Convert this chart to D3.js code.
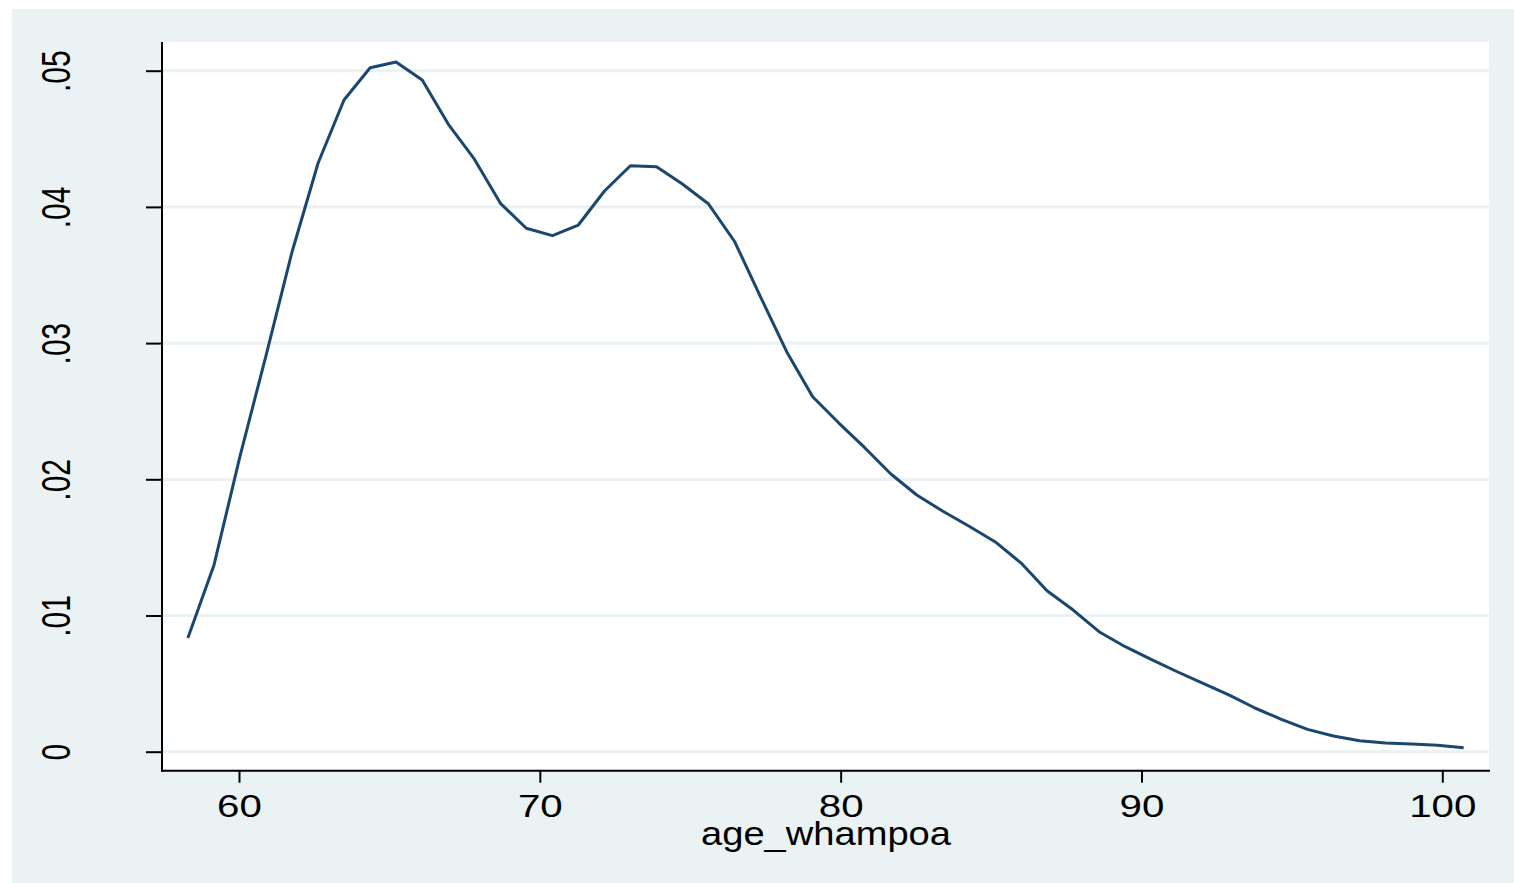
<!DOCTYPE html>
<html>
<head>
<meta charset="utf-8">
<script src="https://cdn.jsdelivr.net/npm/d3@7"></script>
<style>
  body { margin: 0; background: #fff; }
  text { font-family: "Liberation Sans", Arial, sans-serif; fill: #000; }
</style>
</head>
<body>
<script>
// kernel density of age_whampoa (50 evaluation points)
var ageGrid = [58.30, 59.17, 60.03, 60.90, 61.76, 62.63, 63.49, 64.36, 65.22, 66.09,
               66.96, 67.82, 68.69, 69.55, 70.42, 71.28, 72.15, 73.01, 73.88, 74.74,
               75.61, 76.48, 77.34, 78.21, 79.07, 79.94, 80.80, 81.67, 82.53, 83.40,
               84.27, 85.13, 86.00, 86.86, 87.73, 88.59, 89.46, 90.32, 91.19, 92.05,
               92.92, 93.79, 94.65, 95.52, 96.38, 97.25, 98.11, 98.98, 99.84, 100.71];
var density = [0.00835, 0.01371, 0.02166, 0.02910, 0.03667, 0.04322, 0.04785, 0.05022, 0.05064, 0.04932,
               0.04606, 0.04352, 0.04026, 0.03843, 0.03789, 0.03867, 0.04117, 0.04302, 0.04295, 0.04168,
               0.04021, 0.03744, 0.03338, 0.02935, 0.02606, 0.02413, 0.02232, 0.02039, 0.01885, 0.01765,
               0.01655, 0.01542, 0.01385, 0.01182, 0.01040, 0.00881, 0.00771, 0.00678, 0.00587, 0.00502,
               0.00416, 0.00319, 0.00238, 0.00164, 0.00115, 0.00081, 0.00064, 0.00057, 0.00047, 0.00029];
var xTicks = [60, 70, 80, 90, 100];
var yTicks = [0, 0.01, 0.02, 0.03, 0.04, 0.05];
var yTickLabels = ["0", ".01", ".02", ".03", ".04", ".05"];
var xTitle = "age_whampoa";

var width = 1514;
var height = 883;
var svg = d3.select("body").append("svg")
    .attr("width", width)
    .attr("height", height);

// graph region (stata s2color look)
svg.append("rect")
    .attr("x", 12).attr("y", 9)
    .attr("width", width - 12).attr("height", height - 9)
    .attr("fill", "#eaf2f3");

// plot region
var plot = { left: 162, right: 1489, top: 42, bottom: 770.7 };
svg.append("rect")
    .attr("x", plot.left).attr("y", plot.top)
    .attr("width", plot.right - plot.left)
    .attr("height", plot.bottom - plot.top)
    .attr("fill", "#fff");

var xScale = d3.scaleLinear().domain([60, 100]).range([239, 1442.3]);
var yScale = d3.scaleLinear().domain([0, 0.05]).range([751.7, 70.7]);

// grid lines
svg.append("g")
    .selectAll("line")
    .data(yTicks)
    .join("line")
    .attr("x1", plot.left).attr("x2", plot.right)
    .attr("y1", function(d) { return yScale(d); })
    .attr("y2", function(d) { return yScale(d); })
    .attr("stroke", "#eaf2f3")
    .attr("stroke-width", 3.2);

// density curve
var line = d3.line()
    .x(function(d, i) { return xScale(ageGrid[i]); })
    .y(function(d) { return yScale(d); });
svg.append("path")
    .datum(density)
    .attr("d", line)
    .attr("fill", "none")
    .attr("stroke", "#1a476f")
    .attr("stroke-width", 3)
    .attr("stroke-linejoin", "round");

// x axis
var xAxisGroup = svg.append("g")
    .attr("transform", "translate(0," + plot.bottom + ")")
    .call(d3.axisBottom(xScale).tickValues(xTicks).tickSize(12).tickSizeOuter(0));
xAxisGroup.select(".domain").remove();
xAxisGroup.selectAll(".tick line").attr("stroke", "#000").attr("stroke-width", 2);
xAxisGroup.selectAll(".tick text")
    .attr("x", null).attr("y", null).attr("dy", null)
    .attr("transform", "translate(0,46.5) scale(1.3,1)")
    .attr("font-size", 31)
    .attr("font-family", null)
    .attr("fill", "#000");

// y axis
var yAxisGroup = svg.append("g")
    .attr("transform", "translate(" + plot.left + ",0)")
    .call(d3.axisLeft(yScale).tickValues(yTicks).tickSize(16).tickSizeOuter(0)
        .tickFormat(function(d, i) { return yTickLabels[i]; }));
yAxisGroup.select(".domain").remove();
yAxisGroup.selectAll(".tick line").attr("stroke", "#000").attr("stroke-width", 2);
yAxisGroup.selectAll(".tick text")
    .attr("x", null).attr("y", null).attr("dy", null)
    .attr("text-anchor", "middle")
    .attr("transform", "translate(-92.5,0) scale(1.33,1) rotate(-90)")
    .attr("font-size", 30)
    .attr("font-family", null)
    .attr("fill", "#000");

// axis lines
svg.append("line")
    .attr("x1", plot.left).attr("x2", plot.left)
    .attr("y1", plot.top).attr("y2", plot.bottom + 1)
    .attr("stroke", "#000").attr("stroke-width", 2);
svg.append("line")
    .attr("x1", plot.left - 1).attr("x2", plot.right + 1)
    .attr("y1", plot.bottom).attr("y2", plot.bottom)
    .attr("stroke", "#000").attr("stroke-width", 2);

// axis title
svg.append("text")
    .attr("x", 826).attr("y", 845)
    .attr("text-anchor", "middle")
    .attr("font-size", 34)
    .attr("textLength", 250)
    .attr("lengthAdjust", "spacingAndGlyphs")
    .text(xTitle);
</script>
</body>
</html>
